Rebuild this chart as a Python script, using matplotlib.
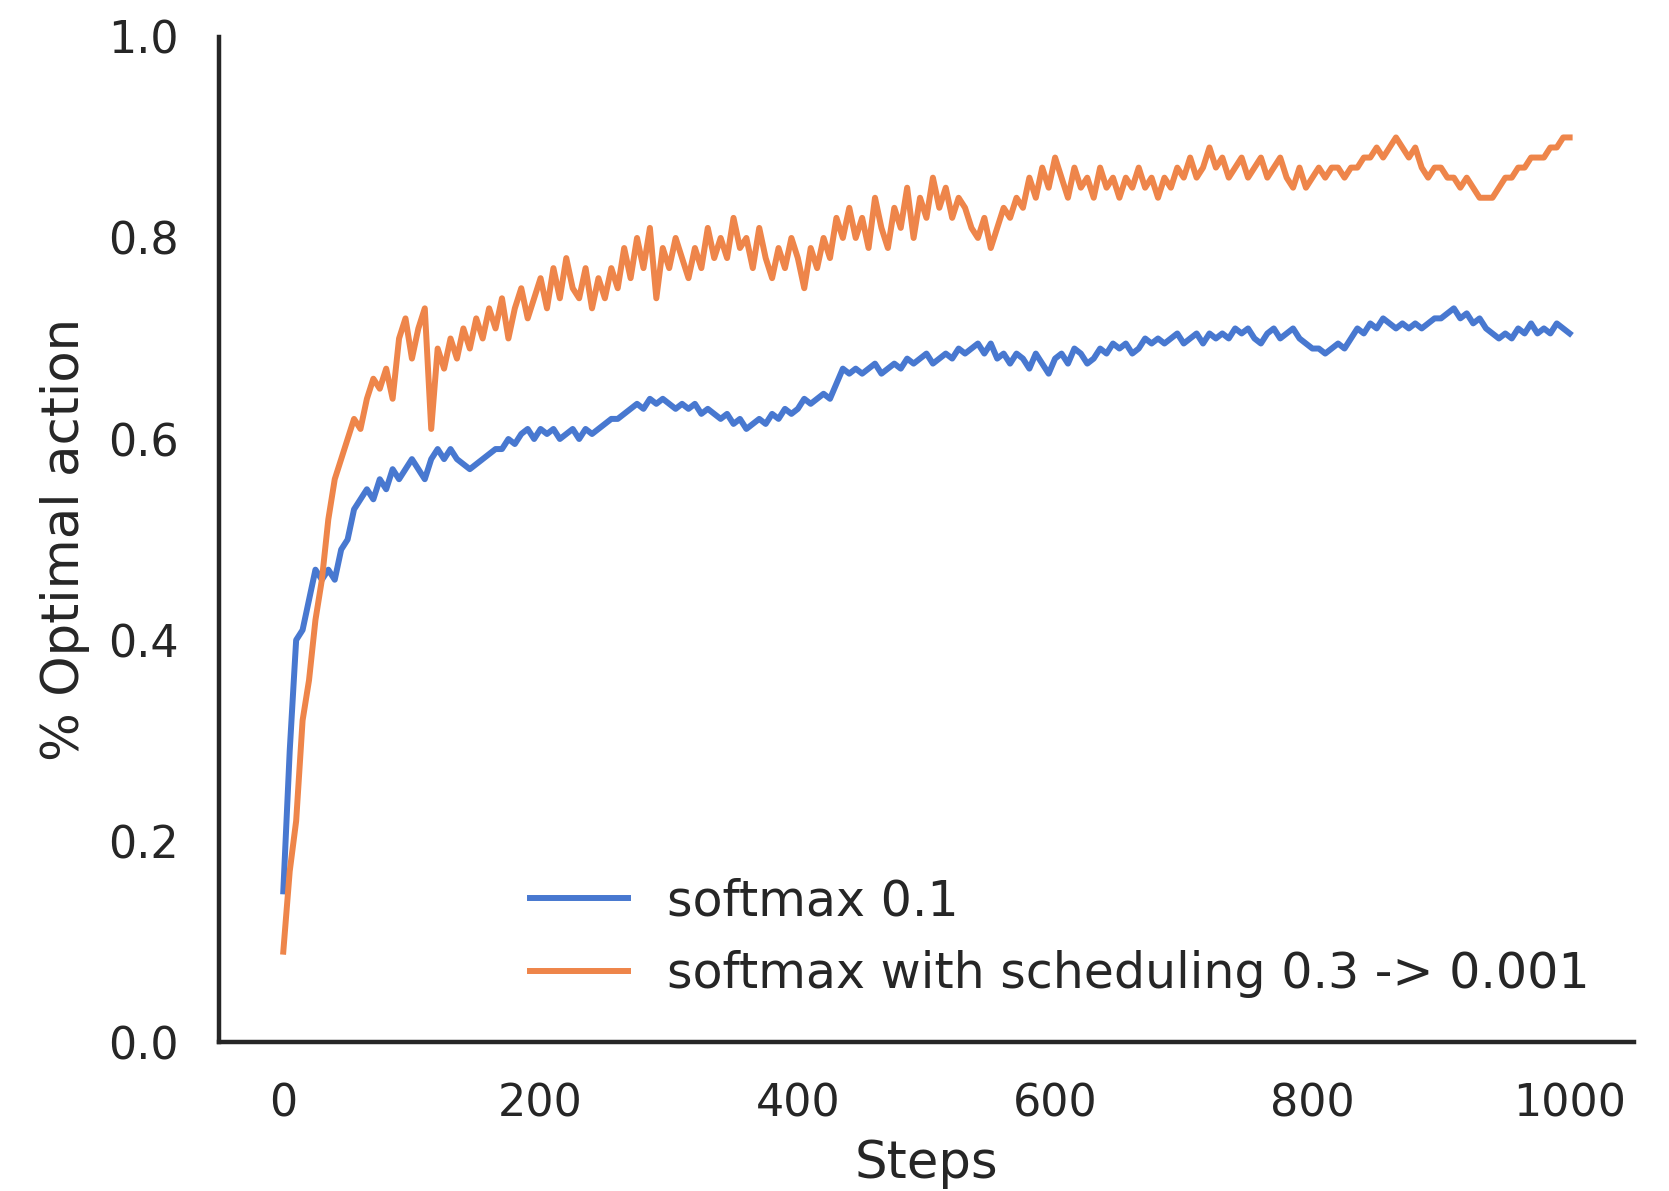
import matplotlib
matplotlib.use("Agg")
import matplotlib.pyplot as plt

# steps sampled every 5 (0 .. 1000)
steps = list(range(0, 1001, 5))

softmax_01 = [
    0.15, 0.29, 0.40, 0.41, 0.44, 0.47, 0.46, 0.47, 0.46, 0.49,
    0.50, 0.53, 0.54, 0.55, 0.54, 0.56, 0.55, 0.57, 0.56, 0.57,
    0.58, 0.57, 0.56, 0.58, 0.59, 0.58, 0.59, 0.58, 0.575, 0.57,
    0.575, 0.58, 0.585, 0.59, 0.59, 0.60, 0.595, 0.605, 0.61, 0.60,
    0.61, 0.605, 0.61, 0.60, 0.605, 0.61, 0.60, 0.61, 0.605, 0.61,
    0.615, 0.62, 0.62, 0.625, 0.63, 0.635, 0.63, 0.64, 0.635, 0.64,
    0.635, 0.63, 0.635, 0.63, 0.635, 0.625, 0.63, 0.625, 0.62, 0.625,
    0.615, 0.62, 0.61, 0.615, 0.62, 0.615, 0.625, 0.62, 0.63, 0.625,
    0.63, 0.64, 0.635, 0.64, 0.645, 0.64, 0.655, 0.67, 0.665, 0.67,
    0.665, 0.67, 0.675, 0.665, 0.67, 0.675, 0.67, 0.68, 0.675, 0.68,
    0.685, 0.675, 0.68, 0.685, 0.68, 0.69, 0.685, 0.69, 0.695, 0.685,
    0.695, 0.68, 0.685, 0.675, 0.685, 0.68, 0.67, 0.685, 0.675, 0.665,
    0.68, 0.685, 0.675, 0.69, 0.685, 0.675, 0.68, 0.69, 0.685, 0.695,
    0.69, 0.695, 0.685, 0.69, 0.70, 0.695, 0.70, 0.695, 0.70, 0.705,
    0.695, 0.70, 0.705, 0.695, 0.705, 0.70, 0.705, 0.70, 0.71, 0.705,
    0.71, 0.70, 0.695, 0.705, 0.71, 0.70, 0.705, 0.71, 0.70, 0.695,
    0.69, 0.69, 0.685, 0.69, 0.695, 0.69, 0.70, 0.71, 0.705, 0.715,
    0.71, 0.72, 0.715, 0.71, 0.715, 0.71, 0.715, 0.71, 0.715, 0.72,
    0.72, 0.725, 0.73, 0.72, 0.725, 0.715, 0.72, 0.71, 0.705, 0.70,
    0.705, 0.70, 0.71, 0.705, 0.715, 0.705, 0.71, 0.705, 0.715, 0.71,
    0.705,
]

softmax_sched = [
    0.09, 0.17, 0.22, 0.32, 0.36, 0.42, 0.46, 0.52, 0.56, 0.58,
    0.60, 0.62, 0.61, 0.64, 0.66, 0.65, 0.67, 0.64, 0.70, 0.72,
    0.68, 0.71, 0.73, 0.61, 0.69, 0.67, 0.70, 0.68, 0.71, 0.69,
    0.72, 0.70, 0.73, 0.71, 0.74, 0.70, 0.73, 0.75, 0.72, 0.74,
    0.76, 0.73, 0.77, 0.74, 0.78, 0.75, 0.74, 0.77, 0.73, 0.76,
    0.74, 0.77, 0.75, 0.79, 0.76, 0.80, 0.77, 0.81, 0.74, 0.79,
    0.77, 0.80, 0.78, 0.76, 0.79, 0.77, 0.81, 0.78, 0.80, 0.78,
    0.82, 0.79, 0.80, 0.77, 0.81, 0.78, 0.76, 0.79, 0.77, 0.80,
    0.78, 0.75, 0.79, 0.77, 0.80, 0.78, 0.82, 0.80, 0.83, 0.80,
    0.82, 0.79, 0.84, 0.81, 0.79, 0.83, 0.81, 0.85, 0.80, 0.84,
    0.82, 0.86, 0.83, 0.85, 0.82, 0.84, 0.83, 0.81, 0.80, 0.82,
    0.79, 0.81, 0.83, 0.82, 0.84, 0.83, 0.86, 0.84, 0.87, 0.85,
    0.88, 0.86, 0.84, 0.87, 0.85, 0.86, 0.84, 0.87, 0.85, 0.86,
    0.84, 0.86, 0.85, 0.87, 0.85, 0.86, 0.84, 0.86, 0.85, 0.87,
    0.86, 0.88, 0.86, 0.87, 0.89, 0.87, 0.88, 0.86, 0.87, 0.88,
    0.86, 0.87, 0.88, 0.86, 0.87, 0.88, 0.86, 0.85, 0.87, 0.85,
    0.86, 0.87, 0.86, 0.87, 0.87, 0.86, 0.87, 0.87, 0.88, 0.88,
    0.89, 0.88, 0.89, 0.90, 0.89, 0.88, 0.89, 0.87, 0.86, 0.87,
    0.87, 0.86, 0.86, 0.85, 0.86, 0.85, 0.84, 0.84, 0.84, 0.85,
    0.86, 0.86, 0.87, 0.87, 0.88, 0.88, 0.88, 0.89, 0.89, 0.90,
    0.90,
]

labels = ["softmax 0.1", "softmax with scheduling 0.3 -> 0.001"]
colors = ["#4878d0", "#ee854a"]
x_ticks = [0, 200, 400, 600, 800, 1000]
y_ticks = [0.0, 0.2, 0.4, 0.6, 0.8, 1.0]

plt.rcParams["font.family"] = ["DejaVu Sans"]
fig = plt.figure(figsize=(16.69, 11.91), dpi=100)
fig.subplots_adjust(left=0.1312, right=0.979, bottom=0.125, top=0.969)
ax = fig.add_subplot(111)

ax.plot(steps, softmax_01, color=colors[0], lw=4.3, label=labels[0])
ax.plot(steps, softmax_sched, color=colors[1], lw=4.3, label=labels[1])

ax.set_ylim(0, 1.0)
ax.set_xticks(x_ticks)
ax.set_yticks(y_ticks)
ax.set_yticklabels([f"{v:.1f}" for v in y_ticks])
ax.tick_params(length=0, labelsize=32, pad=29, colors="#262626")
ax.set_xlabel("Steps", fontsize=37, color="#262626", labelpad=10)
ax.set_ylabel("% Optimal action", fontsize=37, color="#262626", labelpad=13)

for side in ["top", "right"]:
    ax.spines[side].set_visible(False)
for side in ["left", "bottom"]:
    ax.spines[side].set_linewidth(3.2)
    ax.spines[side].set_color("#262626")

ax.legend(loc="lower right", frameon=False, fontsize=35.3, handlelength=2.0,
          labelcolor="#262626")

fig.savefig("out.png", dpi=100)
